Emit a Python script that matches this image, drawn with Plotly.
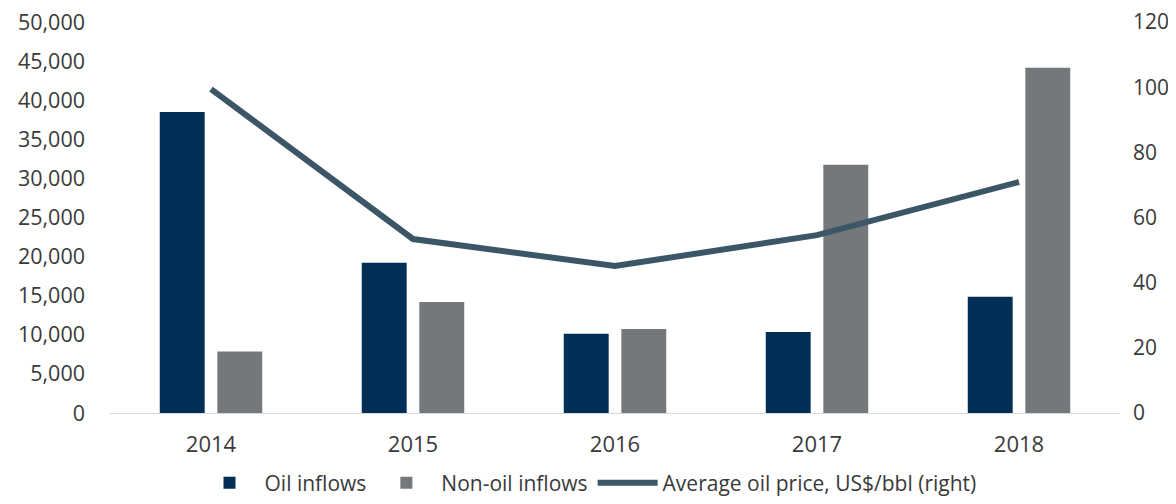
import plotly.graph_objects as go

years = ["2014", "2015", "2016", "2017", "2018"]
oil_inflows = [38500, 19200, 10150, 10350, 14850]
non_oil_inflows = [7850, 14200, 10750, 31750, 44150]
oil_price = [99.4, 53.4, 45.1, 54.6, 70.9]

font_family = "Open Sans, Lato, sans-serif"
text_color = "#3a3a3a"

fig = go.Figure()
fig.add_trace(go.Bar(x=years, y=oil_inflows, name="Oil inflows",
                     marker=dict(color="#002f56", line=dict(width=0))))
fig.add_trace(go.Bar(x=years, y=non_oil_inflows, name="Non-oil inflows",
                     marker=dict(color="#75787b", line=dict(width=0))))
fig.add_trace(go.Scatter(x=years, y=oil_price, name="Average oil price, US$/bbl (right)",
                         mode="lines", line=dict(color="#3b5667", width=6),
                         yaxis="y2"))

# page adds an 8px body margin, so the figure is 1160x488
fig.update_layout(
    width=1160, height=488,
    margin=dict(l=102, r=48, t=14, b=83, autoexpand=False),
    paper_bgcolor="white", plot_bgcolor="white",
    font=dict(family=font_family, size=22, color=text_color),
    barmode="group", bargap=0.43, bargroupgap=0.22,
    showlegend=True,
    legend=dict(orientation="h", x=0.5, xref="container", xanchor="center",
                y=-0.179, yref="paper", yanchor="middle",
                font=dict(size=21, color=text_color), itemwidth=60,
                traceorder="normal"),
    xaxis=dict(showline=True, linecolor="#d9d9d9", linewidth=1, showgrid=False,
               ticks="", ticklabelstandoff=12, automargin=False),
    yaxis=dict(range=[0, 50000], dtick=5000, tickformat=",", showgrid=False,
               zeroline=False, showline=False, ticklabelstandoff=24, automargin=False,
               ticklabeloverflow="allow", tickfont=dict(size=21.5)),
    yaxis2=dict(range=[0, 120], dtick=20, overlaying="y", side="right",
                showgrid=False, zeroline=False, showline=False, ticklabelstandoff=12,
                automargin=False, ticklabeloverflow="allow",
                tickfont=dict(size=21)),
)

fig.write_html("out.html")
